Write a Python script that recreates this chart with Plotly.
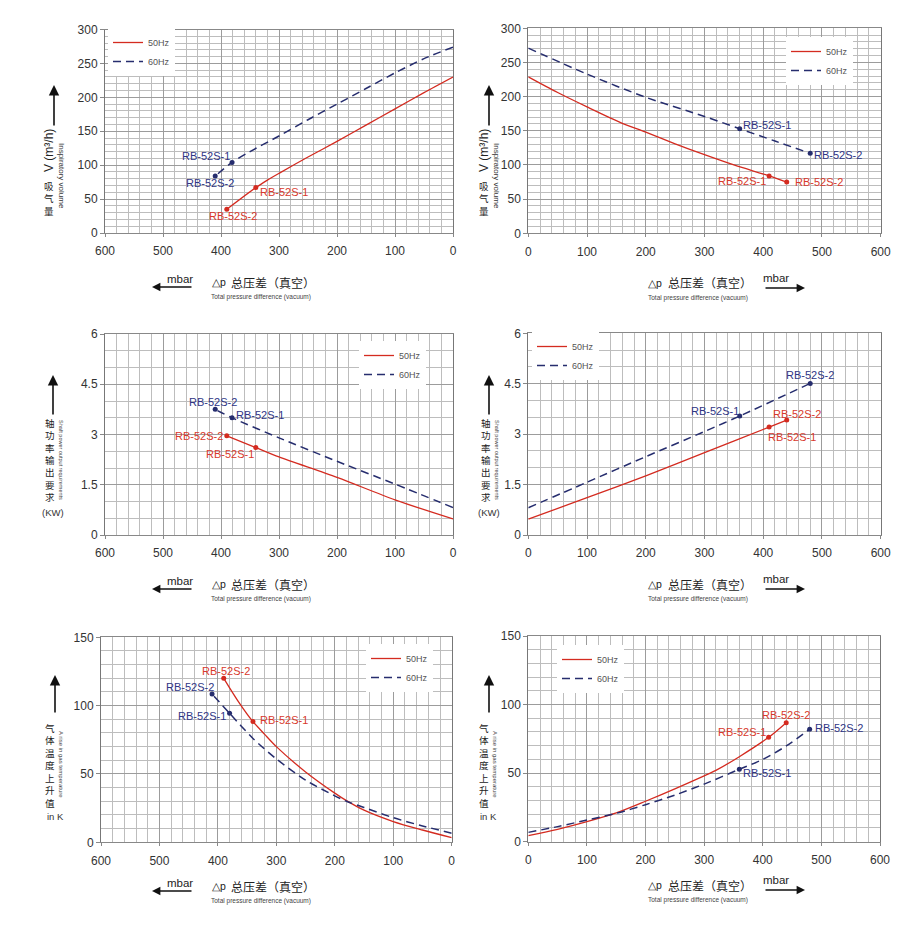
import plotly.graph_objects as go

# ---------------- DATA ----------------
MODELS = ["RB-52S-1", "RB-52S-2"]
FREQ = ["50Hz", "60Hz"]
X_TICKS = [0, 100, 200, 300, 400, 500, 600]

# Top-left: inspiratory volume (m3/h) vs pressure difference (mbar), reversed axis
tl_p50 = [0, 50, 100, 150, 200, 250, 300, 320, 340, 390]
tl_v50 = [230, 207, 183, 159, 135, 112, 88, 78, 67, 35]
tl_p60 = [0, 50, 100, 150, 200, 250, 300, 350, 381, 410]
tl_v60 = [274, 257, 236, 213, 190, 167, 143, 120, 104, 84]
tl_pt50_p = [340, 390]
tl_pt50_v = [67, 35]
tl_pt60_p = [381, 410]
tl_pt60_v = [104, 84]

# Top-right
tr_p50 = [0, 50, 100, 160, 200, 250, 300, 350, 410, 440]
tr_v50 = [229, 206, 185, 161, 148, 131, 115, 100, 84, 75]
tr_p60 = [0, 100, 200, 300, 360, 420, 480]
tr_v60 = [271, 233, 199, 171, 153, 135, 117]
tr_pt50_p = [410, 440]
tr_pt50_v = [84, 75]
tr_pt60_p = [360, 480]
tr_pt60_v = [153, 117]

# Middle-left: shaft power (kW)
ml_p50 = [0, 100, 200, 300, 340, 390]
ml_k50 = [0.48, 1.05, 1.72, 2.33, 2.61, 2.96]
ml_p60 = [0, 100, 200, 300, 381, 410]
ml_k60 = [0.82, 1.52, 2.2, 2.9, 3.5, 3.75]
ml_pt50_p = [340, 390]
ml_pt50_k = [2.61, 2.96]
ml_pt60_p = [381, 410]
ml_pt60_k = [3.5, 3.75]

# Middle-right
mr_p50 = [0, 100, 200, 300, 410, 440]
mr_k50 = [0.47, 1.11, 1.76, 2.45, 3.21, 3.42]
mr_p60 = [0, 100, 200, 300, 360, 480]
mr_k60 = [0.81, 1.57, 2.33, 3.08, 3.54, 4.51]
mr_pt50_p = [410, 440]
mr_pt50_k = [3.21, 3.42]
mr_pt60_p = [360, 480]
mr_pt60_k = [3.54, 4.51]

# Bottom-left: gas temperature rise (K)
bl_p50 = [0, 50, 100, 150, 180, 200, 250, 300, 320, 340, 365, 390]
bl_t50 = [3.4, 9, 15.2, 23.5, 30.5, 36, 51.5, 70, 79, 88.3, 103, 120]
bl_p60 = [0, 50, 100, 150, 180, 200, 250, 300, 340, 380, 410]
bl_t60 = [6.6, 12, 18, 25.5, 30, 34, 45.5, 61, 76, 94.4, 108.5]
bl_pt50_p = [340, 390]
bl_pt50_t = [88.3, 120]
bl_pt60_p = [380, 410]
bl_pt60_t = [94.4, 108.5]

# Bottom-right
br_p50 = [0, 50, 100, 150, 200, 250, 300, 320, 360, 410, 440]
br_t50 = [4.4, 9, 14.6, 21, 29.5, 38.5, 48, 52, 62, 76.1, 86.8]
br_p60 = [0, 50, 100, 150, 200, 250, 300, 360, 400, 440, 480]
br_t60 = [6.8, 11, 15.8, 20.7, 27, 34, 42, 52.8, 60, 69.8, 82]
br_pt50_p = [410, 440]
br_pt50_t = [76.1, 86.8]
br_pt60_p = [360, 480]
br_pt60_t = [52.8, 82]

# ---------------- STYLE ----------------
OFF = 8                      # page body margin of the html page
W, H = 912 - OFF, 938 - OFF  # figure size so that it fits in the window
RED = "#d42b20"
NAVY = "#262d6e"
RED_T = "#d8392c"
NAVY_T = "#2f3585"
FONT = "Arial, 'Liberation Sans', sans-serif"
CJK = "'Noto Sans CJK SC', sans-serif"


def fx(p):
    return (p - OFF) / W


def fy(p):
    return 1 - (p - OFF) / H


panels = [
    dict(side="L", dom=(105, 453, 29.5, 233), yr=300, yminor=10,
         ytv=[0, 50, 100, 150, 200, 250, 300], ytt=None,
         s50=(tl_p50, tl_v50), s60=(tl_p60, tl_v60),
         pt50=(tl_pt50_p, tl_pt50_v), pt60=(tl_pt60_p, tl_pt60_v),
         lab=[("left", 3, -4), ("center", 6, -7), ("right", -1, 6), ("center", -5, -7)],
         leg=(108, 28), kind="vol", base=54, xb=282),
    dict(side="R", dom=(528.3, 880.7, 28.3, 233.3), yr=300, yminor=10,
         ytv=[0, 50, 100, 150, 200, 250, 300], ytt=None,
         s50=(tr_p50, tr_v50), s60=(tr_p60, tr_v60),
         pt50=(tr_pt50_p, tr_pt50_v), pt60=(tr_pt60_p, tr_pt60_v),
         lab=[("right", -2, -5), ("left", 7, 0), ("left", 2, 4), ("left", 3, -2)],
         leg=(786, 37), kind="vol", base=489, xb=283),
    dict(side="L", dom=(105, 453, 334, 535), yr=6, yminor=0.5,
         ytv=[0, 1.5, 3, 4.5, 6], ytt=["0", "1.5", "3", "4.5", "6"],
         s50=(ml_p50, ml_k50), s60=(ml_p60, ml_k60),
         pt50=(ml_pt50_p, ml_pt50_k), pt60=(ml_pt60_p, ml_pt60_k),
         lab=[("right", -1, -6), ("right", -3, 0), ("left", 3, 3), ("center", -2, 7)],
         leg=(359, 341), kind="pow", base=53, xb=584),
    dict(side="R", dom=(528.3, 880.7, 333.3, 535), yr=6, yminor=0.5,
         ytv=[0, 1.5, 3, 4.5, 6], ytt=["0", "1.5", "3", "4.5", "6"],
         s50=(mr_p50, mr_k50), s60=(mr_p60, mr_k60),
         pt50=(mr_pt50_p, mr_pt50_k), pt60=(mr_pt60_p, mr_pt60_k),
         lab=[("left", -2, -10), ("center", 10, 6), ("right", 0, 5), ("center", 0, 8)],
         leg=(532, 332), kind="pow", base=489, xb=584),
    dict(side="L", dom=(101, 451.7, 637.3, 842.3), yr=150, yminor=10,
         ytv=[0, 50, 100, 150], ytt=None,
         s50=(bl_p50, bl_t50), s60=(bl_p60, bl_t60),
         pt50=(bl_pt50_p, bl_pt50_t), pt60=(bl_pt60_p, bl_pt60_t),
         lab=[("left", 6, 2), ("center", 2, 7), ("right", -3, -3), ("right", 3, 7)],
         leg=(366, 644), kind="tmp", base=55, xb=886),
    dict(side="R", dom=(528.3, 880, 636, 841.7), yr=150, yminor=10,
         ytv=[0, 50, 100, 150], ytt=None,
         s50=(br_p50, br_t50), s60=(br_p60, br_t60),
         pt50=(br_pt50_p, br_pt50_t), pt60=(br_pt60_p, br_pt60_t),
         lab=[("right", -2, 5), ("center", 0, 8), ("left", 3, -4), ("left", 4, 1)],
         leg=(557, 645), kind="tmp", base=489, xb=885),
]

fig = go.Figure()
layout = dict(width=W, height=H, margin=dict(l=0, r=0, t=0, b=0, pad=0, autoexpand=False),
              paper_bgcolor="white", plot_bgcolor="white",
              font=dict(family=FONT, color="#333"), showlegend=True)
annotations = []


def txt(px, py, text, size, color="#222", family=FONT, angle=0):
    return dict(x=fx(px), y=fy(py), xref="paper", yref="paper", text=text,
                showarrow=False, xanchor="center", yanchor="middle", textangle=angle,
                borderpad=0, font=dict(size=size, color=color, family=family))


def stacked(chars):
    return "<br>".join(chars)


for i, pn in enumerate(panels, start=1):
    xa = "x" if i == 1 else f"x{i}"
    ya = "y" if i == 1 else f"y{i}"
    lg = "legend" if i == 1 else f"legend{i}"
    x0, x1, y0, y1 = pn["dom"]
    xrange = [600, 0] if pn["side"] == "L" else [0, 600]
    layout["xaxis" if i == 1 else f"xaxis{i}"] = dict(
        domain=[fx(x0), fx(x1)], range=xrange, anchor=ya, autorange=False, automargin=False,
        tickvals=X_TICKS, ticks="outside", ticklen=3, tickcolor="#888", ticklabelstandoff=4,
        tickfont=dict(size=12, color="#333", family=FONT),
        showgrid=True, gridcolor="#9c9c9c", gridwidth=1, zeroline=False,
        showline=True, linecolor="#888", linewidth=1, mirror=True,
        minor=dict(dtick=20, showgrid=True, gridcolor="#bdbdbd", gridwidth=1),
        fixedrange=True)
    yd = dict(domain=[fy(y1), fy(y0)], range=[0, pn["yr"]], anchor=xa, autorange=False,
              automargin=False,
              tickvals=pn["ytv"], ticks="outside", ticklen=4, tickcolor="#888",
              tickfont=dict(size=12, color="#333", family=FONT),
              showgrid=True, gridcolor="#9c9c9c", gridwidth=1, zeroline=False,
              showline=True, linecolor="#777", linewidth=1, mirror=True,
              minor=dict(dtick=pn["yminor"], showgrid=True, gridcolor="#bdbdbd", gridwidth=1),
              fixedrange=True)
    if pn["ytt"]:
        yd["ticktext"] = pn["ytt"]
    layout["yaxis" if i == 1 else f"yaxis{i}"] = yd

    lx, ly = pn["leg"]
    layout[lg] = dict(x=fx(lx), y=fy(ly), xanchor="left", yanchor="top",
                      bgcolor="white", borderwidth=0, itemwidth=30,
                      font=dict(size=9, color="#555", family=FONT),
                      tracegroupgap=0, itemclick=False, itemdoubleclick=False)

    fig.add_trace(go.Scatter(x=pn["s50"][0], y=pn["s50"][1], mode="lines", name=FREQ[0],
                             line=dict(color=RED, width=1.3, shape="spline", smoothing=0.8),
                             xaxis=xa, yaxis=ya, legend=lg, hoverinfo="skip"))
    fig.add_trace(go.Scatter(x=pn["s60"][0], y=pn["s60"][1], mode="lines", name=FREQ[1],
                             line=dict(color=NAVY, width=1.5, dash="8px,5px", shape="spline", smoothing=0.8),
                             xaxis=xa, yaxis=ya, legend=lg, hoverinfo="skip"))
    fig.add_trace(go.Scatter(x=pn["pt50"][0], y=pn["pt50"][1], mode="markers", showlegend=False,
                             marker=dict(color=RED, size=5), xaxis=xa, yaxis=ya, hoverinfo="skip"))
    fig.add_trace(go.Scatter(x=pn["pt60"][0], y=pn["pt60"][1], mode="markers", showlegend=False,
                             marker=dict(color=NAVY, size=5), xaxis=xa, yaxis=ya, hoverinfo="skip"))

    # model labels
    pts = [(pn["pt50"], 0, RED_T), (pn["pt50"], 1, RED_T), (pn["pt60"], 0, NAVY_T), (pn["pt60"], 1, NAVY_T)]
    for (pt, k, col), (anc, xs, ys) in zip(pts, pn["lab"]):
        annotations.append(dict(x=pt[0][k], y=pt[1][k], xref=xa, yref=ya, text=MODELS[k],
                                showarrow=False, xanchor=anc, yanchor="middle", xshift=xs, yshift=ys,
                                borderpad=0, font=dict(size=11, color=col, family=FONT)))

    # y-axis title block
    b = pn["base"]
    if pn["kind"] == "vol":
        ah, at = 85, 127
    elif pn["kind"] == "pow":
        ah, at = 375, 416
    else:
        ah, at = 675, 714
    annotations.append(dict(x=fx(b), y=fy(ah), xref="paper", yref="paper", text="",
                            showarrow=True, ax=0, ay=at - ah, arrowhead=2, arrowsize=1.3,
                            arrowwidth=1.6, arrowcolor="#111"))
    if pn["kind"] == "vol":
        annotations.append(txt(b - 5, 151, "V (m³/h)", 12, angle=-90))
        annotations.append(txt(b - 5, 199, stacked("吸气量"), 9.5, family=CJK))
        annotations.append(txt(b + 8, 176, "Inspiratory volume", 8, color="#333", angle=90))
    elif pn["kind"] == "pow":
        annotations.append(txt(b - 3, 460, stacked("轴功率输出要求"), 9.5, family=CJK))
        annotations.append(txt(b + 8, 460, "Shaft power output requirements", 5.5, color="#444", angle=90))
        annotations.append(txt(b, 512, "(KW)", 9.5, color="#333"))
    else:
        annotations.append(txt(b - 5, 765, stacked("气体温度上升值"), 9.6, family=CJK))
        annotations.append(txt(b + 6, 764, "A rise in gas temperature", 6, color="#444", angle=90))
        annotations.append(txt(b, 816, "in K", 9.5, color="#333"))

    # x-axis title block
    yb = pn["xb"]
    if pn["side"] == "L":
        mx, dx, cx, ex = 180, 219, 273, 261
        head, tail = 152, 193
        my = yb - 3
    else:
        mx, dx, cx, ex = 776, 655, 710, 698
        head, tail = 805, 764
        my = yb - 5
    annotations.append(txt(mx, my, "mbar", 11.5))
    annotations.append(dict(x=fx(head), y=fy(yb + 5), xref="paper", yref="paper", text="",
                            showarrow=True, ax=tail - head, ay=0, arrowhead=2, arrowsize=1.2,
                            arrowwidth=1.4, arrowcolor="#111"))
    annotations.append(txt(dx, yb, "△p", 10.5))
    annotations.append(txt(cx, yb, "总压差（真空）", 12, family=CJK))
    annotations.append(txt(ex, yb + 14.5, "Total pressure difference (vacuum)", 6.5, color="#444"))

layout["annotations"] = annotations
fig.update_layout(**layout)
fig.write_html("out.html", config={"displayModeBar": False})
